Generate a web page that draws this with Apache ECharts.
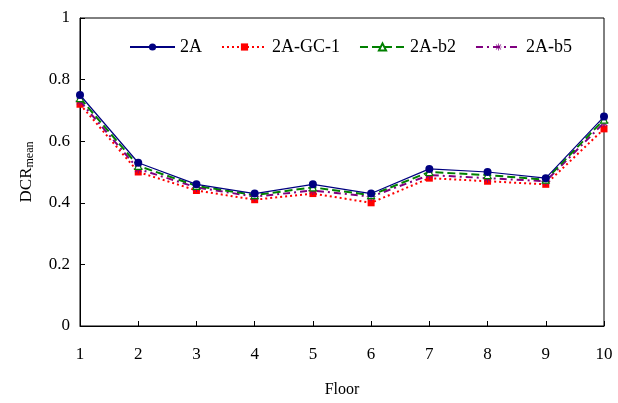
<!DOCTYPE html>
<html>
<head>
<meta charset="utf-8">
<script src="https://cdn.jsdelivr.net/npm/echarts@6/dist/echarts.min.js"></script>
<style>html,body{margin:0;padding:0;background:#fff}#c{width:618px;height:403px}</style>
</head>
<body>
<div id="c"></div>
<script>
const floors = ['1','2','3','4','5','6','7','8','9','10'];
const s2A    = [0.75, 0.53, 0.46, 0.43, 0.46, 0.43, 0.51, 0.50, 0.48, 0.68];
const sGC1   = [0.72, 0.50, 0.44, 0.41, 0.43, 0.40, 0.48, 0.47, 0.46, 0.64];
const sB2    = [0.74, 0.52, 0.455, 0.425, 0.45, 0.425, 0.50, 0.49, 0.475, 0.67];
const sB5    = [0.73, 0.51, 0.45, 0.42, 0.44, 0.42, 0.49, 0.48, 0.47, 0.66];
const yTicks = [0, 0.2, 0.4, 0.6, 0.8, 1];

const font = 'Liberation Serif';
const chart = echarts.init(document.getElementById('c'));
const star = 'path://M-1,-10L1,-10L1,10L-1,10ZM-10,-1L10,-1L10,1L-10,1ZM-7.8,-6.4L-6.4,-7.8L7.8,6.4L6.4,7.8ZM6.4,-7.8L7.8,-6.4L-6.4,7.8L-7.8,6.4Z';
chart.setOption({
  animation: false,
  textStyle: {fontFamily: font},
  grid: {left: 80, right: 14, top: 18, bottom: 70, show: true, borderColor: '#000', borderWidth: 1},
  legend: {
    top: 38, left: 129, padding: 0, itemWidth: 45, itemHeight: 9, itemGap: 19,
    textStyle: {fontFamily: font, fontSize: 18, color: '#000'},
    data: ['2A','2A-GC-1','2A-b2','2A-b5']
  },
  xAxis: {
    type: 'category', data: floors, boundaryGap: false,
    name: 'Floor', nameLocation: 'middle', nameGap: 56,
    nameTextStyle: {fontFamily: font, fontSize: 16, color: '#000'},
    axisLine: {lineStyle: {color: '#000'}},
    axisTick: {inside: true, length: 5, lineStyle: {color: '#000'}},
    axisLabel: {margin: 20, fontFamily: font, fontSize: 17, color: '#000'},
    splitLine: {show: false}
  },
  yAxis: {
    type: 'value', min: 0, max: 1, interval: 0.2,
    name: '{a|DCR}{b|mean}', nameLocation: 'middle', nameGap: 44,
    nameTextStyle: {rich: {a: {fontFamily: font, fontSize: 17, color: '#000'}, b: {fontFamily: font, fontSize: 12, color: '#000', verticalAlign: 'bottom', padding: [6,0,0,0]}}},
    axisLine: {show: true, lineStyle: {color: '#000'}},
    axisTick: {show: true, inside: true, length: 5, lineStyle: {color: '#000'}},
    axisLabel: {margin: 10, fontFamily: font, fontSize: 17, color: '#000',
      formatter: v => yTicks.indexOf(Math.round(v*10)/10) >= 0 ? String(Math.round(v*10)/10) : ''},
    splitLine: {show: false}
  },
  series: [
    {name: '2A', type: 'line', data: s2A, symbol: 'circle', symbolSize: 8,
     itemStyle: {color: '#000080'}, lineStyle: {color: '#000080', width: 1.2, type: 'solid'}, z: 5},
    {name: '2A-GC-1', type: 'line', data: sGC1, symbol: 'rect', symbolSize: 7,
     itemStyle: {color: '#ff0000'}, lineStyle: {color: '#ff0000', width: 2, type: [2,3]}, z: 2},
    {name: '2A-b2', type: 'line', data: sB2, symbol: 'triangle', symbolSize: 7,
     itemStyle: {color: '#fff', borderColor: '#008000', borderWidth: 1.2}, lineStyle: {color: '#008000', width: 2, type: [8,4]}, z: 4},
    {name: '2A-b5', type: 'line', data: sB5, symbol: star, symbolSize: 9,
     itemStyle: {color: '#800080'}, lineStyle: {color: '#800080', width: 2, type: [7,4,2,4]}, z: 3}
  ]
});
</script>
</body>
</html>
